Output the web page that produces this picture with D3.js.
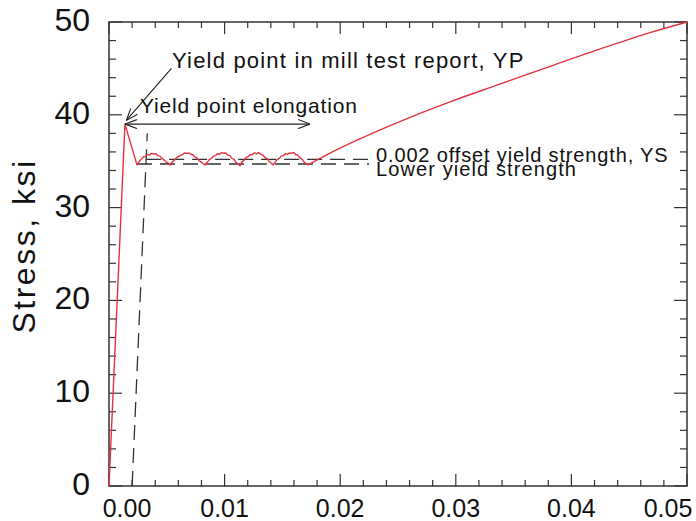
<!DOCTYPE html>
<html><head><meta charset="utf-8">
<script src="https://cdn.jsdelivr.net/npm/d3@7"></script>
<style>
html,body{margin:0;padding:0;background:#fff;}
svg{display:block;}
text{font-family:"Liberation Sans",Arial,Helvetica,sans-serif;fill:#111;}
</style></head>
<body>
<svg id="chart" width="696" height="521"></svg>
<script>
// ---------- data ----------
const xTicksMajor = [0, 0.01, 0.02, 0.03, 0.04, 0.05];
const xTickLabels = ["0.00", "0.01", "0.02", "0.03", "0.04", "0.05"];
const yTicksMajor = [0, 10, 20, 30, 40, 50];
const yTickLabels = ["0", "10", "20", "30", "40", "50"];
const yTitle = "Stress, ksi";

// stress-strain curve pieces [strain, stress ksi]
const elasticRise = [[0, 0], [0.00138, 39.0]];
const yieldDrop = [[0.00138, 39.0], [0.00242, 34.6]];
const plateau = [
  [0.00242,34.6],[0.00260,34.95],[0.00278,35.2],[0.00296,35.45],[0.00314,35.5],[0.00332,35.72],[0.00350,35.65],[0.00368,35.85],[0.00386,35.78],[0.00404,35.82],[0.00422,35.6],[0.00440,35.55],[0.00458,35.3],[0.00476,35.15],[0.00494,34.9],[0.00512,34.8],[0.00528,34.6],
  [0.00546,34.9],[0.00564,35.1],[0.00582,35.35],[0.00600,35.5],[0.00618,35.62],[0.00636,35.7],[0.00654,35.9],[0.00672,35.82],[0.00690,35.9],[0.00708,35.75],[0.00726,35.7],[0.00744,35.45],[0.00762,35.35],[0.00780,35.05],[0.00798,34.9],[0.00814,34.75],[0.0083,34.6],
  [0.00848,34.85],[0.00866,35.15],[0.00884,35.3],[0.00902,35.55],[0.00920,35.6],[0.00938,35.8],[0.00956,35.75],[0.00974,35.92],[0.00992,35.85],[0.01010,35.88],[0.01028,35.65],[0.01046,35.6],[0.01064,35.3],[0.01082,35.2],[0.01100,34.85],[0.01116,34.7],[0.01133,34.5],
  [0.01150,34.9],[0.01168,35.1],[0.01186,35.4],[0.01204,35.5],[0.01222,35.7],[0.01240,35.72],[0.01258,35.9],[0.01276,35.8],[0.01294,35.92],[0.01312,35.75],[0.01330,35.68],[0.01348,35.4],[0.01366,35.3],[0.01384,35.0],[0.01402,34.8],[0.01419,34.6],
  [0.01436,34.9],[0.01454,35.15],[0.01472,35.3],[0.01490,35.55],[0.01508,35.6],[0.01526,35.8],[0.01544,35.75],[0.01562,35.9],[0.01580,35.85],[0.01598,35.95],[0.01616,35.7],[0.01634,35.65],[0.01652,35.35],[0.01670,35.2],[0.01688,34.9],[0.01704,34.75],[0.01721,34.6]
];
const hardening = [
  [0.01721,34.6],[0.0190,35.8],[0.0209,36.95],[0.0252,39.3],[0.0295,41.4],[0.0338,43.3],
  [0.0381,45.2],[0.0425,47.1],[0.0468,48.85],[0.0500,50.0]
];

// dashed construction lines
const offsetLine = [[0.002, 0], [0.00331, 38]];
const offsetYieldLine = [[0.00321, 35.2], [0.0225, 35.2]];
const lowerYieldLine = [[0.00242, 34.7], [0.0225, 34.7]];

// annotations (data units)
const elongationArrow = [[0.00138, 39.0], [0.0174, 39.0]];
const ypArrow = [[0.0054, 45.0], [0.0015, 39.4]];
const annotations = [
  {text: "Yield point in mill test report, YP", x: 0.00545, y: 45.0, size: 22, ls: 1.2},
  {text: "Yield point elongation", x: 0.00268, y: 40.2, size: 21, ls: 0.8},
  {text: "0.002 offset yield strength, YS", x: 0.0231, y: 34.9, size: 20, ls: 0.85},
  {text: "Lower yield strength", x: 0.0231, y: 33.4, size: 20, ls: 1.1}
];

// ---------- layout ----------
const L = 109, R = 687, T = 22, B = 486;
const svg = d3.select("#chart");
const x = d3.scaleLinear().domain([0, 0.05]).range([L, R]);
const y = d3.scaleLinear().domain([0, 50]).range([B, T]);
const axisColor = "#333";

const defs = svg.append("defs");
defs.append("marker").attr("id", "ah").attr("viewBox", "0 0 12 10")
  .attr("refX", 12).attr("refY", 5).attr("markerWidth", 12).attr("markerHeight", 10)
  .attr("markerUnits", "userSpaceOnUse").attr("orient", "auto-start-reverse")
  .append("path").attr("d", "M0,0.5 L12,5 L0,9.5").attr("fill", "none")
  .attr("stroke", "#222").attr("stroke-width", 1.1);

// minor ticks
const xMinor = d3.range(0, 0.0501, 0.002);
const yMinor = d3.range(0, 50.1, 2);
const g = svg.append("g");

function xTicks(yPos, dir) {
  g.selectAll(null).data(xMinor).enter().append("line")
    .attr("x1", d => x(d)).attr("x2", d => x(d))
    .attr("y1", yPos).attr("y2", d => {
      const major = Math.abs(Math.round(d * 100) - d * 100) < 1e-6;
      return yPos + dir * (major ? 12 : 6);
    })
    .attr("stroke", axisColor).attr("stroke-width", 1.2);
}
xTicks(B, -1); xTicks(T, 1);
function yTicks(xPos, dir) {
  g.selectAll(null).data(yMinor).enter().append("line")
    .attr("y1", d => y(d)).attr("y2", d => y(d))
    .attr("x1", xPos).attr("x2", d => xPos + dir * (Math.round(d) % 10 === 0 ? 13 : 7))
    .attr("stroke", axisColor).attr("stroke-width", 1.2);
}
yTicks(L, 1); yTicks(R, -1);

// frame
g.append("rect").attr("x", L).attr("y", T).attr("width", R - L).attr("height", B - T)
  .attr("fill", "none").attr("stroke", axisColor).attr("stroke-width", 1.5);

// tick labels
const xLabelShift = [18, 0, 0, 0, 0, -19];
g.selectAll(null).data(xTicksMajor).enter().append("text")
  .attr("x", (d, i) => x(d) + xLabelShift[i]).attr("y", B + 31)
  .attr("text-anchor", "middle").attr("font-size", 25)
  .text((d, i) => xTickLabels[i]);
g.selectAll(null).data(yTicksMajor).enter().append("text")
  .attr("x", L - 19).attr("y", d => y(d) + 9)
  .attr("text-anchor", "end").attr("font-size", 32)
  .text((d, i) => yTickLabels[i]);
svg.append("text").attr("transform", "translate(35,246) rotate(-90)")
  .attr("text-anchor", "middle").attr("font-size", 32).attr("letter-spacing", 2.5)
  .text(yTitle);

// dashed lines
const line = d3.line().x(d => x(d[0])).y(d => y(d[1]));
[offsetLine, offsetYieldLine, lowerYieldLine].forEach(p => {
  svg.append("path").attr("d", line(p)).attr("fill", "none")
    .attr("stroke", "#333").attr("stroke-width", 1.3).attr("stroke-dasharray", "15,8");
});

// curve
const curve = elasticRise.concat(yieldDrop.slice(1), plateau.slice(1));
svg.append("path").attr("d", line(curve)).attr("fill", "none")
  .attr("stroke", "#e5333d").attr("stroke-width", 1.4).attr("stroke-linejoin", "round");
const smooth = d3.line().x(d => x(d[0])).y(d => y(d[1])).curve(d3.curveMonotoneX);
svg.append("path").attr("d", smooth(hardening)).attr("fill", "none")
  .attr("stroke", "#e5333d").attr("stroke-width", 1.4);

// arrows
svg.append("path").attr("d", line(elongationArrow)).attr("fill", "none")
  .attr("stroke", "#222").attr("stroke-width", 1.1)
  .attr("marker-start", "url(#ah)").attr("marker-end", "url(#ah)");
svg.append("path").attr("d", line(ypArrow)).attr("fill", "none")
  .attr("stroke", "#222").attr("stroke-width", 1.1).attr("marker-end", "url(#ah)");

// annotation text
svg.selectAll(null).data(annotations).enter().append("text")
  .attr("x", d => x(d.x)).attr("y", d => y(d.y))
  .attr("font-size", d => d.size).attr("letter-spacing", d => d.ls)
  .text(d => d.text);
</script>
</body></html>
